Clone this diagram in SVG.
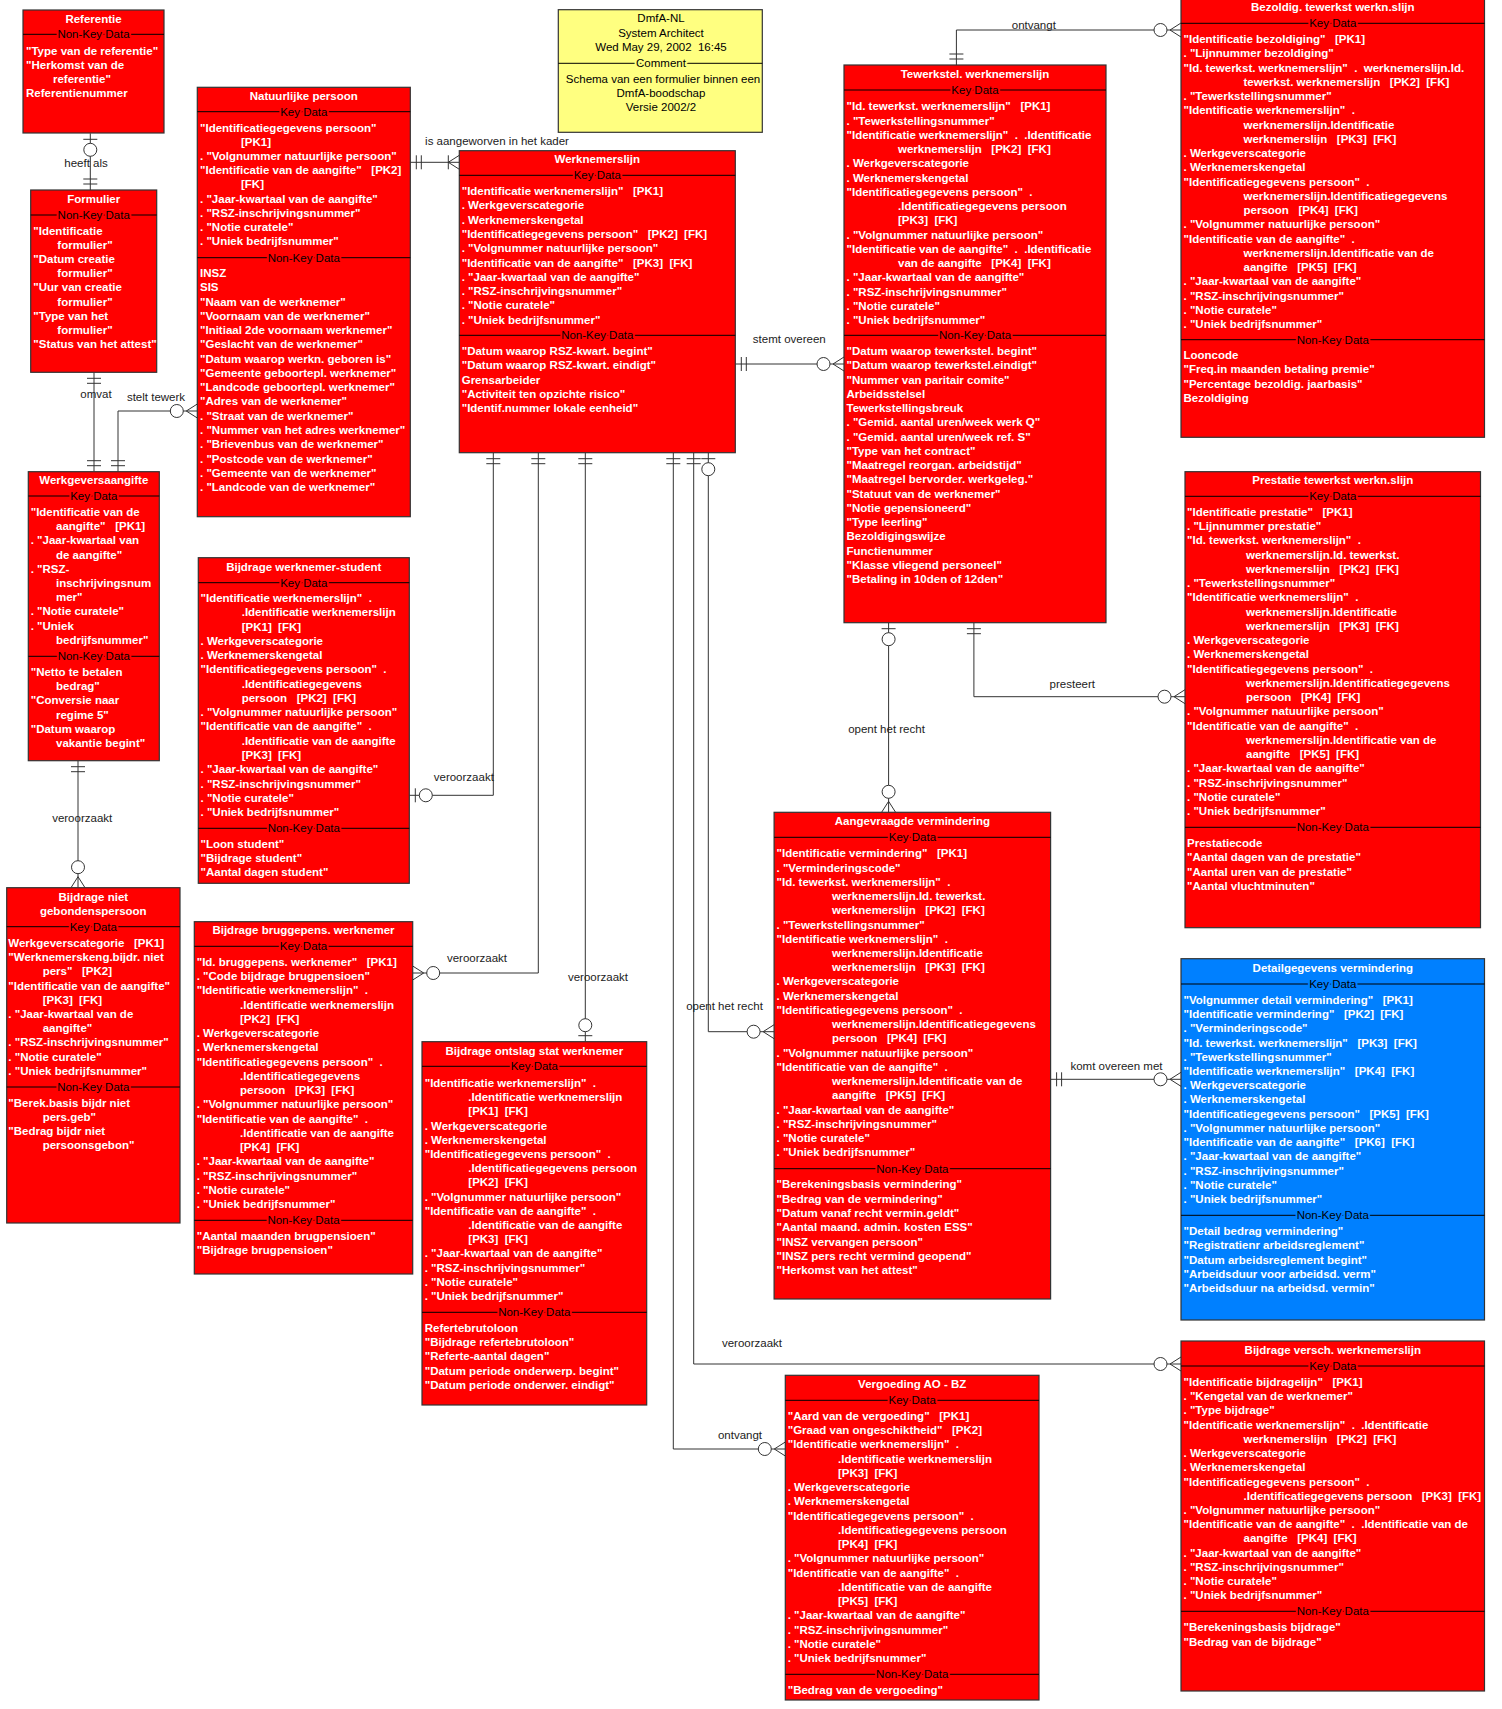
<svg xmlns="http://www.w3.org/2000/svg" xmlns:xlink="http://www.w3.org/1999/xlink" width="1502" height="1709" viewBox="0 0 1502 1709">
<style>
.ent{fill:#FF0000;stroke:#333;stroke-width:1.2}
.blue{fill:#0080FF}
.note{fill:#FFFF80;stroke:#333;stroke-width:1.2}
.sep{stroke:#000;stroke-width:1}
.ttl{font:bold 11.5px "Liberation Sans",Arial,sans-serif;fill:#fff;text-anchor:middle}
.row{font:bold 11.5px "Liberation Sans",Arial,sans-serif;fill:#fff}
.lbl{font:11.5px "Liberation Sans",Arial,sans-serif;fill:#000;text-anchor:middle;paint-order:stroke;stroke:#FF0000;stroke-width:4px;stroke-linejoin:round}
.lblb{stroke:#0080FF}
.lbly{stroke:#FFFF80}
.ntxt{font:11.5px "Liberation Sans",Arial,sans-serif;fill:#000;text-anchor:middle}
.rel{fill:none;stroke:#333;stroke-width:1}
.rl{font:11.5px "Liberation Sans",Arial,sans-serif;fill:#222;text-anchor:middle}
</style>
<defs>
<g id="e1"><path d="M-6,-7V7M-11,-7V7" stroke="#333" fill="none"/></g>
<g id="e01"><path d="M-6,-7V7" stroke="#333" fill="none"/><circle cx="-16.5" cy="0" r="6.5" fill="#fff" stroke="#333"/></g>
<g id="e0n"><path d="M0,-7L-11,0L0,7" stroke="#333" fill="none"/><circle cx="-20.5" cy="0" r="6.5" fill="#fff" stroke="#333"/></g>
<g id="e1n"><path d="M0,-7L-11,0L0,7M-11,-7V7" stroke="#333" fill="none"/></g>
</defs>
<rect width="1502" height="1709" fill="#fff"/>

<g id="connectors">
<g id="r-heeft-als"><path class="rel" d="M90.3,133.3V190"/><use xlink:href="#e01" transform="translate(90.3,133.3) rotate(-90)"/><use xlink:href="#e1" transform="translate(90.3,190) rotate(90)"/><text class="rl" x="86" y="167">heeft als</text></g>
<g id="r-omvat"><path class="rel" d="M94,372.3V471.7"/><use xlink:href="#e1" transform="translate(94,372.3) rotate(-90)"/><use xlink:href="#e1" transform="translate(94,471.7) rotate(90)"/><text class="rl" x="96" y="398">omvat</text></g>
<g id="r-stelt-tewerk"><path class="rel" d="M197.3,411H118V471.7"/><use xlink:href="#e0n" transform="translate(197.3,411)"/><use xlink:href="#e1" transform="translate(118,471.7) rotate(90)"/><text class="rl" x="156" y="401">stelt tewerk</text></g>
<g id="r-aangeworven"><path class="rel" d="M410.3,162.3H459.3"/><use xlink:href="#e1" transform="translate(410.3,162.3) rotate(180)"/><use xlink:href="#e1n" transform="translate(459.3,162.3)"/><text class="rl" x="497" y="145">is aangeworven in het kader</text></g>
<g id="r-stemt-overeen"><path class="rel" d="M735.3,364H844"/><use xlink:href="#e1" transform="translate(735.3,364) rotate(180)"/><use xlink:href="#e0n" transform="translate(844,364)"/><text class="rl" x="789.3" y="343">stemt overeen</text></g>
<g id="r-ontvangt-bez"><path class="rel" d="M956.4,65V30H1181"/><use xlink:href="#e1" transform="translate(956.4,65) rotate(90)"/><use xlink:href="#e0n" transform="translate(1181,30)"/><text class="rl" x="1033.8" y="29">ontvangt</text></g>
<g id="r-presteert"><path class="rel" d="M973.9,622.7V696.7H1185"/><use xlink:href="#e1" transform="translate(973.9,622.7) rotate(-90)"/><use xlink:href="#e0n" transform="translate(1185,696.7)"/><text class="rl" x="1072.3" y="688.3">presteert</text></g>
<g id="r-opent-1"><path class="rel" d="M888.6,622.7V812.3"/><use xlink:href="#e01" transform="translate(888.6,622.7) rotate(-90)"/><use xlink:href="#e0n" transform="translate(888.6,812.3) rotate(90)"/><text class="rl" x="886.5" y="733">opent het recht</text></g>
<g id="r-komt-overeen"><path class="rel" d="M1050.6,1079.3H1181"/><use xlink:href="#e1" transform="translate(1050.6,1079.3) rotate(180)"/><use xlink:href="#e0n" transform="translate(1181,1079.3)"/><text class="rl" x="1116.5" y="1070">komt overeen met</text></g>
<g id="r-veroorzaakt-niet"><path class="rel" d="M78,760.7V887.7"/><use xlink:href="#e1" transform="translate(78,760.7) rotate(-90)"/><use xlink:href="#e0n" transform="translate(78,887.7) rotate(90)"/><text class="rl" x="82.2" y="822.3">veroorzaakt</text></g>
<g id="r-veroorzaakt-student"><path class="rel" d="M493.3,452.7V795.3H409.3"/><use xlink:href="#e1" transform="translate(493.3,452.7) rotate(-90)"/><use xlink:href="#e01" transform="translate(409.3,795.3) rotate(180)"/><text class="rl" x="463.8" y="781.3">veroorzaakt</text></g>
<g id="r-veroorzaakt-brug"><path class="rel" d="M538.3,452.7V973H412.7"/><use xlink:href="#e1" transform="translate(538.3,452.7) rotate(-90)"/><use xlink:href="#e0n" transform="translate(412.7,973) rotate(180)"/><text class="rl" x="477" y="962.3">veroorzaakt</text></g>
<g id="r-veroorzaakt-ontslag"><path class="rel" d="M585.3,452.7V1041.7"/><use xlink:href="#e1" transform="translate(585.3,452.7) rotate(-90)"/><use xlink:href="#e01" transform="translate(585.3,1041.7) rotate(90)"/><text class="rl" x="598" y="981.3">veroorzaakt</text></g>
<g id="r-ontvangt-verg"><path class="rel" d="M673.3,452.7V1449H785.3"/><use xlink:href="#e1" transform="translate(673.3,452.7) rotate(-90)"/><use xlink:href="#e0n" transform="translate(785.3,1449)"/><text class="rl" x="740" y="1439">ontvangt</text></g>
<g id="r-veroorzaakt-versch"><path class="rel" d="M693.7,452.7V1364H1181"/><use xlink:href="#e1" transform="translate(693.7,452.7) rotate(-90)"/><use xlink:href="#e0n" transform="translate(1181,1364)"/><text class="rl" x="752" y="1347.3">veroorzaakt</text></g>
<g id="r-opent-2"><path class="rel" d="M708.3,452.7V1031.7H774.1"/><use xlink:href="#e01" transform="translate(708.3,452.7) rotate(-90)"/><use xlink:href="#e0n" transform="translate(774.1,1031.7)"/><text class="rl" x="724.5" y="1010">opent het recht</text></g>
</g>

<g id="n-referentie">
<rect class="ent" x="23" y="10" width="141" height="123"/>
<text class="ttl" x="93.5" y="23">Referentie</text>
<line class="sep" x1="23" y1="34.3" x2="164" y2="34.3"/><text class="lbl" x="93.5" y="38.3">Non-Key Data</text>
<text class="row" y="55"><tspan x="26">"Type van de referentie"</tspan><tspan x="26" dy="14">"Herkomst van de</tspan><tspan x="53" dy="14">referentie"</tspan><tspan x="26" dy="14">Referentienummer</tspan></text>
</g>

<g id="n-formulier">
<rect class="ent" x="30.7" y="190" width="126" height="182.3"/>
<text class="ttl" x="93.7" y="203">Formulier</text>
<line class="sep" x1="30.7" y1="215" x2="156.7" y2="215"/><text class="lbl" x="93.7" y="219">Non-Key Data</text>
<text class="row" y="235"><tspan x="33.3">"Identificatie</tspan><tspan x="57.3" dy="14.12">formulier"</tspan><tspan x="33.3" dy="14.12">"Datum creatie</tspan><tspan x="57.3" dy="14.12">formulier"</tspan><tspan x="33.3" dy="14.12">"Uur van creatie</tspan><tspan x="57.3" dy="14.12">formulier"</tspan><tspan x="33.3" dy="14.12">"Type van het</tspan><tspan x="57.3" dy="14.12">formulier"</tspan><tspan x="33.3" dy="14.12">"Status van het attest"</tspan></text>
</g>

<g id="n-natuurlijke-persoon">
<rect class="ent" x="197.3" y="87.3" width="213" height="429.4"/>
<text class="ttl" x="303.8" y="100.3">Natuurlijke persoon</text>
<line class="sep" x1="197.3" y1="111.7" x2="410.3" y2="111.7"/><text class="lbl" x="303.8" y="115.7">Key Data</text>
<text class="row" y="132"><tspan x="200">"Identificatiegegevens persoon"</tspan><tspan x="241" dy="14.12">[PK1]</tspan><tspan x="200" dy="14.12">. "Volgnummer natuurlijke persoon"</tspan><tspan x="200" dy="14.12">"Identificatie van de aangifte"&#160;&#160; [PK2]</tspan><tspan x="241" dy="14.12">[FK]</tspan><tspan x="200" dy="14.12">. "Jaar-kwartaal van de aangifte"</tspan><tspan x="200" dy="14.12">. "RSZ-inschrijvingsnummer"</tspan><tspan x="200" dy="14.12">. "Notie curatele"</tspan><tspan x="200" dy="14.12">. "Uniek bedrijfsnummer"</tspan></text>
<line class="sep" x1="197.3" y1="257.7" x2="410.3" y2="257.7"/><text class="lbl" x="303.8" y="261.7">Non-Key Data</text>
<text class="row" y="277"><tspan x="200">INSZ</tspan><tspan x="200" dy="14.27">SIS</tspan><tspan x="200" dy="14.27">"Naam van de werknemer"</tspan><tspan x="200" dy="14.27">"Voornaam van de werknemer"</tspan><tspan x="200" dy="14.27">"Initiaal 2de voornaam werknemer"</tspan><tspan x="200" dy="14.27">"Geslacht van de werknemer"</tspan><tspan x="200" dy="14.27">"Datum waarop werkn. geboren is"</tspan><tspan x="200" dy="14.27">"Gemeente geboortepl. werknemer"</tspan><tspan x="200" dy="14.27">"Landcode geboortepl. werknemer"</tspan><tspan x="200" dy="14.27">"Adres van de werknemer"</tspan><tspan x="200" dy="14.27">. "Straat van de werknemer"</tspan><tspan x="200" dy="14.27">. "Nummer van het adres werknemer"</tspan><tspan x="200" dy="14.27">. "Brievenbus van de werknemer"</tspan><tspan x="200" dy="14.27">. "Postcode van de werknemer"</tspan><tspan x="200" dy="14.27">. "Gemeente van de werknemer"</tspan><tspan x="200" dy="14.27">. "Landcode van de werknemer"</tspan></text>
</g>

<g id="n-dmfa-note">
<rect class="note" x="558.3" y="9.7" width="204" height="122.6"/>
<text class="ntxt" x="661" y="21.7">DmfA-NL</text>
<text class="ntxt" x="661" y="37">System Architect</text>
<text class="ntxt" x="661" y="51">Wed May 29, 2002&#160; 16:45</text>
<line class="sep" x1="558.3" y1="63.3" x2="762.3" y2="63.3"/><text class="lbl lbly" x="661" y="67.3">Comment</text>
<text class="ntxt" x="663" y="83">Schema van een formulier binnen een</text>
<text class="ntxt" x="661" y="97">DmfA-boodschap</text>
<text class="ntxt" x="661" y="111">Versie 2002/2</text>
</g>

<g id="n-werknemerslijn">
<rect class="ent" x="459.3" y="150.7" width="276" height="302"/>
<text class="ttl" x="597.3" y="163">Werknemerslijn</text>
<line class="sep" x1="459.3" y1="175.3" x2="735.3" y2="175.3"/><text class="lbl" x="597.3" y="179.3">Key Data</text>
<text class="row" y="195"><tspan x="461.7">"Identificatie werknemerslijn"&#160;&#160; [PK1]</tspan><tspan x="461.7" dy="14.3">. Werkgeverscategorie</tspan><tspan x="461.7" dy="14.3">. Werknemerskengetal</tspan><tspan x="461.7" dy="14.3">"Identificatiegegevens persoon"&#160;&#160; [PK2]&#160; [FK]</tspan><tspan x="461.7" dy="14.3">. "Volgnummer natuurlijke persoon"</tspan><tspan x="461.7" dy="14.3">"Identificatie van de aangifte"&#160;&#160; [PK3]&#160; [FK]</tspan><tspan x="461.7" dy="14.3">. "Jaar-kwartaal van de aangifte"</tspan><tspan x="461.7" dy="14.3">. "RSZ-inschrijvingsnummer"</tspan><tspan x="461.7" dy="14.3">. "Notie curatele"</tspan><tspan x="461.7" dy="14.3">. "Uniek bedrijfsnummer"</tspan></text>
<line class="sep" x1="459.3" y1="335.3" x2="735.3" y2="335.3"/><text class="lbl" x="597.3" y="339.3">Non-Key Data</text>
<text class="row" y="355"><tspan x="461.7">"Datum waarop RSZ-kwart. begint"</tspan><tspan x="461.7" dy="14.25">"Datum waarop RSZ-kwart. eindigt"</tspan><tspan x="461.7" dy="14.25">Grensarbeider</tspan><tspan x="461.7" dy="14.25">"Activiteit ten opzichte risico"</tspan><tspan x="461.7" dy="14.25">"Identif.nummer lokale eenheid"</tspan></text>
</g>

<g id="n-tewerkstel">
<rect class="ent" x="844" y="65" width="262" height="557.7"/>
<text class="ttl" x="975" y="78">Tewerkstel. werknemerslijn</text>
<line class="sep" x1="844" y1="90" x2="1106" y2="90"/><text class="lbl" x="975" y="94">Key Data</text>
<text class="row" y="110.3"><tspan x="846.5">"Id. tewerkst. werknemerslijn"&#160;&#160; [PK1]</tspan><tspan x="846.5" dy="14.25">. "Tewerkstellingsnummer"</tspan><tspan x="846.5" dy="14.25">"Identificatie werknemerslijn"&#160; .&#160; .Identificatie</tspan><tspan x="898" dy="14.25">werknemerslijn&#160;&#160; [PK2]&#160; [FK]</tspan><tspan x="846.5" dy="14.25">. Werkgeverscategorie</tspan><tspan x="846.5" dy="14.25">. Werknemerskengetal</tspan><tspan x="846.5" dy="14.25">"Identificatiegegevens persoon"&#160; .</tspan><tspan x="898" dy="14.25">.Identificatiegegevens persoon</tspan><tspan x="898" dy="14.25">[PK3]&#160; [FK]</tspan><tspan x="846.5" dy="14.25">. "Volgnummer natuurlijke persoon"</tspan><tspan x="846.5" dy="14.25">"Identificatie van de aangifte"&#160; .&#160; .Identificatie</tspan><tspan x="898" dy="14.25">van de aangifte&#160;&#160; [PK4]&#160; [FK]</tspan><tspan x="846.5" dy="14.25">. "Jaar-kwartaal van de aangifte"</tspan><tspan x="846.5" dy="14.25">. "RSZ-inschrijvingsnummer"</tspan><tspan x="846.5" dy="14.25">. "Notie curatele"</tspan><tspan x="846.5" dy="14.25">. "Uniek bedrijfsnummer"</tspan></text>
<line class="sep" x1="844" y1="335.3" x2="1106" y2="335.3"/><text class="lbl" x="975" y="339.3">Non-Key Data</text>
<text class="row" y="355"><tspan x="846.5">"Datum waarop tewerkstel. begint"</tspan><tspan x="846.5" dy="14.25">"Datum waarop tewerkstel.eindigt"</tspan><tspan x="846.5" dy="14.25">"Nummer van paritair comite"</tspan><tspan x="846.5" dy="14.25">Arbeidsstelsel</tspan><tspan x="846.5" dy="14.25">Tewerkstellingsbreuk</tspan><tspan x="846.5" dy="14.25">. "Gemid. aantal uren/week werk Q"</tspan><tspan x="846.5" dy="14.25">. "Gemid. aantal uren/week ref. S"</tspan><tspan x="846.5" dy="14.25">"Type van het contract"</tspan><tspan x="846.5" dy="14.25">"Maatregel reorgan. arbeidstijd"</tspan><tspan x="846.5" dy="14.25">"Maatregel bervorder. werkgeleg."</tspan><tspan x="846.5" dy="14.25">"Statuut van de werknemer"</tspan><tspan x="846.5" dy="14.25">"Notie gepensioneerd"</tspan><tspan x="846.5" dy="14.25">"Type leerling"</tspan><tspan x="846.5" dy="14.25">Bezoldigingswijze</tspan><tspan x="846.5" dy="14.25">Functienummer</tspan><tspan x="846.5" dy="14.25">"Klasse vliegend personeel"</tspan><tspan x="846.5" dy="14.25">"Betaling in 10den of 12den"</tspan></text>
</g>

<g id="n-bezoldiging">
<rect class="ent" x="1181" y="-1" width="303.5" height="438.3"/>
<text class="ttl" x="1332.8" y="11.3">Bezoldig. tewerkst werkn.slijn</text>
<line class="sep" x1="1181" y1="23.3" x2="1484.5" y2="23.3"/><text class="lbl" x="1332.8" y="27.3">Key Data</text>
<text class="row" y="43"><tspan x="1183.5">"Identificatie bezoldiging"&#160;&#160; [PK1]</tspan><tspan x="1183.5" dy="14.25">. "Lijnnummer bezoldiging"</tspan><tspan x="1183.5" dy="14.25">"Id. tewerkst. werknemerslijn"&#160; .&#160; werknemerslijn.Id.</tspan><tspan x="1243.5" dy="14.25">tewerkst. werknemerslijn&#160;&#160; [PK2]&#160; [FK]</tspan><tspan x="1183.5" dy="14.25">. "Tewerkstellingsnummer"</tspan><tspan x="1183.5" dy="14.25">"Identificatie werknemerslijn"&#160; .</tspan><tspan x="1243.5" dy="14.25">werknemerslijn.Identificatie</tspan><tspan x="1243.5" dy="14.25">werknemerslijn&#160;&#160; [PK3]&#160; [FK]</tspan><tspan x="1183.5" dy="14.25">. Werkgeverscategorie</tspan><tspan x="1183.5" dy="14.25">. Werknemerskengetal</tspan><tspan x="1183.5" dy="14.25">"Identificatiegegevens persoon"&#160; .</tspan><tspan x="1243.5" dy="14.25">werknemerslijn.Identificatiegegevens</tspan><tspan x="1243.5" dy="14.25">persoon&#160;&#160; [PK4]&#160; [FK]</tspan><tspan x="1183.5" dy="14.25">. "Volgnummer natuurlijke persoon"</tspan><tspan x="1183.5" dy="14.25">"Identificatie van de aangifte"&#160; .</tspan><tspan x="1243.5" dy="14.25">werknemerslijn.Identificatie van de</tspan><tspan x="1243.5" dy="14.25">aangifte&#160;&#160; [PK5]&#160; [FK]</tspan><tspan x="1183.5" dy="14.25">. "Jaar-kwartaal van de aangifte"</tspan><tspan x="1183.5" dy="14.25">. "RSZ-inschrijvingsnummer"</tspan><tspan x="1183.5" dy="14.25">. "Notie curatele"</tspan><tspan x="1183.5" dy="14.25">. "Uniek bedrijfsnummer"</tspan></text>
<line class="sep" x1="1181" y1="339.7" x2="1484.5" y2="339.7"/><text class="lbl" x="1332.8" y="343.7">Non-Key Data</text>
<text class="row" y="359"><tspan x="1183.5">Looncode</tspan><tspan x="1183.5" dy="14.3">"Freq.in maanden betaling premie"</tspan><tspan x="1183.5" dy="14.3">"Percentage bezoldig. jaarbasis"</tspan><tspan x="1183.5" dy="14.3">Bezoldiging</tspan></text>
</g>

<g id="n-prestatie">
<rect class="ent" x="1185" y="471.7" width="295.5" height="456"/>
<text class="ttl" x="1332.8" y="484">Prestatie tewerkst werkn.slijn</text>
<line class="sep" x1="1185" y1="496.3" x2="1480.5" y2="496.3"/><text class="lbl" x="1332.8" y="500.3">Key Data</text>
<text class="row" y="516"><tspan x="1187">"Identificatie prestatie"&#160;&#160; [PK1]</tspan><tspan x="1187" dy="14.24">. "Lijnnummer prestatie"</tspan><tspan x="1187" dy="14.24">"Id. tewerkst. werknemerslijn"&#160; .</tspan><tspan x="1246" dy="14.24">werknemerslijn.Id. tewerkst.</tspan><tspan x="1246" dy="14.24">werknemerslijn&#160;&#160; [PK2]&#160; [FK]</tspan><tspan x="1187" dy="14.24">. "Tewerkstellingsnummer"</tspan><tspan x="1187" dy="14.24">"Identificatie werknemerslijn"&#160; .</tspan><tspan x="1246" dy="14.24">werknemerslijn.Identificatie</tspan><tspan x="1246" dy="14.24">werknemerslijn&#160;&#160; [PK3]&#160; [FK]</tspan><tspan x="1187" dy="14.24">. Werkgeverscategorie</tspan><tspan x="1187" dy="14.24">. Werknemerskengetal</tspan><tspan x="1187" dy="14.24">"Identificatiegegevens persoon"&#160; .</tspan><tspan x="1246" dy="14.24">werknemerslijn.Identificatiegegevens</tspan><tspan x="1246" dy="14.24">persoon&#160;&#160; [PK4]&#160; [FK]</tspan><tspan x="1187" dy="14.24">. "Volgnummer natuurlijke persoon"</tspan><tspan x="1187" dy="14.24">"Identificatie van de aangifte"&#160; .</tspan><tspan x="1246" dy="14.24">werknemerslijn.Identificatie van de</tspan><tspan x="1246" dy="14.24">aangifte&#160;&#160; [PK5]&#160; [FK]</tspan><tspan x="1187" dy="14.24">. "Jaar-kwartaal van de aangifte"</tspan><tspan x="1187" dy="14.24">. "RSZ-inschrijvingsnummer"</tspan><tspan x="1187" dy="14.24">. "Notie curatele"</tspan><tspan x="1187" dy="14.24">. "Uniek bedrijfsnummer"</tspan></text>
<line class="sep" x1="1185" y1="827.3" x2="1480.5" y2="827.3"/><text class="lbl" x="1332.8" y="831.3">Non-Key Data</text>
<text class="row" y="847"><tspan x="1187">Prestatiecode</tspan><tspan x="1187" dy="14.3">"Aantal dagen van de prestatie"</tspan><tspan x="1187" dy="14.3">"Aantal uren van de prestatie"</tspan><tspan x="1187" dy="14.3">"Aantal vluchtminuten"</tspan></text>
</g>

<g id="n-aangevraagde-vermindering">
<rect class="ent" x="774.1" y="812.3" width="276.5" height="486.7"/>
<text class="ttl" x="912.4" y="825.3">Aangevraagde vermindering</text>
<line class="sep" x1="774.1" y1="837.3" x2="1050.6" y2="837.3"/><text class="lbl" x="912.4" y="841.3">Key Data</text>
<text class="row" y="857.3"><tspan x="776.5">"Identificatie vermindering"&#160;&#160; [PK1]</tspan><tspan x="776.5" dy="14.24">. "Verminderingscode"</tspan><tspan x="776.5" dy="14.24">"Id. tewerkst. werknemerslijn"&#160; .</tspan><tspan x="832" dy="14.24">werknemerslijn.Id. tewerkst.</tspan><tspan x="832" dy="14.24">werknemerslijn&#160;&#160; [PK2]&#160; [FK]</tspan><tspan x="776.5" dy="14.24">. "Tewerkstellingsnummer"</tspan><tspan x="776.5" dy="14.24">"Identificatie werknemerslijn"&#160; .</tspan><tspan x="832" dy="14.24">werknemerslijn.Identificatie</tspan><tspan x="832" dy="14.24">werknemerslijn&#160;&#160; [PK3]&#160; [FK]</tspan><tspan x="776.5" dy="14.24">. Werkgeverscategorie</tspan><tspan x="776.5" dy="14.24">. Werknemerskengetal</tspan><tspan x="776.5" dy="14.24">"Identificatiegegevens persoon"&#160; .</tspan><tspan x="832" dy="14.24">werknemerslijn.Identificatiegegevens</tspan><tspan x="832" dy="14.24">persoon&#160;&#160; [PK4]&#160; [FK]</tspan><tspan x="776.5" dy="14.24">. "Volgnummer natuurlijke persoon"</tspan><tspan x="776.5" dy="14.24">"Identificatie van de aangifte"&#160; .</tspan><tspan x="832" dy="14.24">werknemerslijn.Identificatie van de</tspan><tspan x="832" dy="14.24">aangifte&#160;&#160; [PK5]&#160; [FK]</tspan><tspan x="776.5" dy="14.24">. "Jaar-kwartaal van de aangifte"</tspan><tspan x="776.5" dy="14.24">. "RSZ-inschrijvingsnummer"</tspan><tspan x="776.5" dy="14.24">. "Notie curatele"</tspan><tspan x="776.5" dy="14.24">. "Uniek bedrijfsnummer"</tspan></text>
<line class="sep" x1="774.1" y1="1168.7" x2="1050.6" y2="1168.7"/><text class="lbl" x="912.4" y="1172.7">Non-Key Data</text>
<text class="row" y="1188.3"><tspan x="776.5">"Berekeningsbasis vermindering"</tspan><tspan x="776.5" dy="14.33">"Bedrag van de vermindering"</tspan><tspan x="776.5" dy="14.33">"Datum vanaf recht vermin.geldt"</tspan><tspan x="776.5" dy="14.33">"Aantal maand. admin. kosten ESS"</tspan><tspan x="776.5" dy="14.33">"INSZ vervangen persoon"</tspan><tspan x="776.5" dy="14.33">"INSZ pers recht vermind geopend"</tspan><tspan x="776.5" dy="14.33">"Herkomst van het attest"</tspan></text>
</g>

<g id="n-detailgegevens-vermindering">
<rect class="ent blue" x="1181" y="958.7" width="303.5" height="361.3"/>
<text class="ttl" x="1332.8" y="972.3">Detailgegevens vermindering</text>
<line class="sep" x1="1181" y1="984" x2="1484.5" y2="984"/><text class="lbl lblb" x="1332.8" y="988">Key Data</text>
<text class="row" y="1004"><tspan x="1183.5">"Volgnummer detail vermindering"&#160;&#160; [PK1]</tspan><tspan x="1183.5" dy="14.21">"Identificatie vermindering"&#160;&#160; [PK2]&#160; [FK]</tspan><tspan x="1183.5" dy="14.21">. "Verminderingscode"</tspan><tspan x="1183.5" dy="14.21">"Id. tewerkst. werknemerslijn"&#160;&#160; [PK3]&#160; [FK]</tspan><tspan x="1183.5" dy="14.21">. "Tewerkstellingsnummer"</tspan><tspan x="1183.5" dy="14.21">"Identificatie werknemerslijn"&#160;&#160; [PK4]&#160; [FK]</tspan><tspan x="1183.5" dy="14.21">. Werkgeverscategorie</tspan><tspan x="1183.5" dy="14.21">. Werknemerskengetal</tspan><tspan x="1183.5" dy="14.21">"Identificatiegegevens persoon"&#160;&#160; [PK5]&#160; [FK]</tspan><tspan x="1183.5" dy="14.21">. "Volgnummer natuurlijke persoon"</tspan><tspan x="1183.5" dy="14.21">"Identificatie van de aangifte"&#160;&#160; [PK6]&#160; [FK]</tspan><tspan x="1183.5" dy="14.21">. "Jaar-kwartaal van de aangifte"</tspan><tspan x="1183.5" dy="14.21">. "RSZ-inschrijvingsnummer"</tspan><tspan x="1183.5" dy="14.21">. "Notie curatele"</tspan><tspan x="1183.5" dy="14.21">. "Uniek bedrijfsnummer"</tspan></text>
<line class="sep" x1="1181" y1="1215.3" x2="1484.5" y2="1215.3"/><text class="lbl lblb" x="1332.8" y="1219.3">Non-Key Data</text>
<text class="row" y="1235"><tspan x="1183.5">"Detail bedrag vermindering"</tspan><tspan x="1183.5" dy="14.25">"Registratienr arbeidsreglement"</tspan><tspan x="1183.5" dy="14.25">"Datum arbeidsreglement begint"</tspan><tspan x="1183.5" dy="14.25">"Arbeidsduur voor arbeidsd. verm"</tspan><tspan x="1183.5" dy="14.25">"Arbeidsduur na arbeidsd. vermin"</tspan></text>
</g>

<g id="n-bijdrage-versch">
<rect class="ent" x="1181" y="1341" width="303.5" height="350"/>
<text class="ttl" x="1332.8" y="1354.3">Bijdrage versch. werknemerslijn</text>
<line class="sep" x1="1181" y1="1366" x2="1484.5" y2="1366"/><text class="lbl" x="1332.8" y="1370">Key Data</text>
<text class="row" y="1386"><tspan x="1183.5">"Identificatie bijdragelijn"&#160;&#160; [PK1]</tspan><tspan x="1183.5" dy="14.22">. "Kengetal van de werknemer"</tspan><tspan x="1183.5" dy="14.22">. "Type bijdrage"</tspan><tspan x="1183.5" dy="14.22">"Identificatie werknemerslijn"&#160; .&#160; .Identificatie</tspan><tspan x="1243.5" dy="14.22">werknemerslijn&#160;&#160; [PK2]&#160; [FK]</tspan><tspan x="1183.5" dy="14.22">. Werkgeverscategorie</tspan><tspan x="1183.5" dy="14.22">. Werknemerskengetal</tspan><tspan x="1183.5" dy="14.22">"Identificatiegegevens persoon"&#160; .</tspan><tspan x="1243.5" dy="14.22">.Identificatiegegevens persoon&#160;&#160; [PK3]&#160; [FK]</tspan><tspan x="1183.5" dy="14.22">. "Volgnummer natuurlijke persoon"</tspan><tspan x="1183.5" dy="14.22">"Identificatie van de aangifte"&#160; .&#160; .Identificatie van de</tspan><tspan x="1243.5" dy="14.22">aangifte&#160;&#160; [PK4]&#160; [FK]</tspan><tspan x="1183.5" dy="14.22">. "Jaar-kwartaal van de aangifte"</tspan><tspan x="1183.5" dy="14.22">. "RSZ-inschrijvingsnummer"</tspan><tspan x="1183.5" dy="14.22">. "Notie curatele"</tspan><tspan x="1183.5" dy="14.22">. "Uniek bedrijfsnummer"</tspan></text>
<line class="sep" x1="1181" y1="1611.3" x2="1484.5" y2="1611.3"/><text class="lbl" x="1332.8" y="1615.3">Non-Key Data</text>
<text class="row" y="1631"><tspan x="1183.5">"Berekeningsbasis bijdrage"</tspan><tspan x="1183.5" dy="14.5">"Bedrag van de bijdrage"</tspan></text>
</g>

<g id="n-bijdrage-student">
<rect class="ent" x="198.3" y="557.7" width="211" height="325.6"/>
<text class="ttl" x="303.8" y="571">Bijdrage werknemer-student</text>
<line class="sep" x1="198.3" y1="582.7" x2="409.3" y2="582.7"/><text class="lbl" x="303.8" y="586.7">Key Data</text>
<text class="row" y="602"><tspan x="200.5">"Identificatie werknemerslijn"&#160; .</tspan><tspan x="241.7" dy="14.27">.Identificatie werknemerslijn</tspan><tspan x="241.7" dy="14.27">[PK1]&#160; [FK]</tspan><tspan x="200.5" dy="14.27">. Werkgeverscategorie</tspan><tspan x="200.5" dy="14.27">. Werknemerskengetal</tspan><tspan x="200.5" dy="14.27">"Identificatiegegevens persoon"&#160; .</tspan><tspan x="241.7" dy="14.27">.Identificatiegegevens</tspan><tspan x="241.7" dy="14.27">persoon&#160;&#160; [PK2]&#160; [FK]</tspan><tspan x="200.5" dy="14.27">. "Volgnummer natuurlijke persoon"</tspan><tspan x="200.5" dy="14.27">"Identificatie van de aangifte"&#160; .</tspan><tspan x="241.7" dy="14.27">.Identificatie van de aangifte</tspan><tspan x="241.7" dy="14.27">[PK3]&#160; [FK]</tspan><tspan x="200.5" dy="14.27">. "Jaar-kwartaal van de aangifte"</tspan><tspan x="200.5" dy="14.27">. "RSZ-inschrijvingsnummer"</tspan><tspan x="200.5" dy="14.27">. "Notie curatele"</tspan><tspan x="200.5" dy="14.27">. "Uniek bedrijfsnummer"</tspan></text>
<line class="sep" x1="198.3" y1="828.3" x2="409.3" y2="828.3"/><text class="lbl" x="303.8" y="832.3">Non-Key Data</text>
<text class="row" y="848"><tspan x="200.5">"Loon student"</tspan><tspan x="200.5" dy="14">"Bijdrage student"</tspan><tspan x="200.5" dy="14">"Aantal dagen student"</tspan></text>
</g>

<g id="n-werkgeversaangifte">
<rect class="ent" x="28.3" y="471.7" width="131" height="289"/>
<text class="ttl" x="93.8" y="484">Werkgeversaangifte</text>
<line class="sep" x1="28.3" y1="496" x2="159.3" y2="496"/><text class="lbl" x="93.8" y="500">Key Data</text>
<text class="row" y="516"><tspan x="30.7">"Identificatie van de</tspan><tspan x="56" dy="14.2">aangifte"&#160;&#160; [PK1]</tspan><tspan x="30.7" dy="14.2">. "Jaar-kwartaal van</tspan><tspan x="56" dy="14.2">de aangifte"</tspan><tspan x="30.7" dy="14.2">. "RSZ-</tspan><tspan x="56" dy="14.2">inschrijvingsnum</tspan><tspan x="56" dy="14.2">mer"</tspan><tspan x="30.7" dy="14.2">. "Notie curatele"</tspan><tspan x="30.7" dy="14.2">. "Uniek</tspan><tspan x="56" dy="14.2">bedrijfsnummer"</tspan></text>
<line class="sep" x1="28.3" y1="656.3" x2="159.3" y2="656.3"/><text class="lbl" x="93.8" y="660.3">Non-Key Data</text>
<text class="row" y="676"><tspan x="30.7">"Netto te betalen</tspan><tspan x="56" dy="14.2">bedrag"</tspan><tspan x="30.7" dy="14.2">"Conversie naar</tspan><tspan x="56" dy="14.2">regime 5"</tspan><tspan x="30.7" dy="14.2">"Datum waarop</tspan><tspan x="56" dy="14.2">vakantie begint"</tspan></text>
</g>

<g id="n-bijdrage-niet-gebonden">
<rect class="ent" x="6.7" y="887.7" width="173.3" height="335.3"/>
<text class="ttl" x="93.3" y="901">Bijdrage niet</text>
<text class="ttl" x="93.3" y="915.3">gebondenspersoon</text>
<line class="sep" x1="6.7" y1="926.7" x2="180" y2="926.7"/><text class="lbl" x="93.3" y="930.7">Key Data</text>
<text class="row" y="947"><tspan x="8.3">Werkgeverscategorie&#160;&#160; [PK1]</tspan><tspan x="8.3" dy="14.2">"Werknemerskeng.bijdr. niet</tspan><tspan x="42.7" dy="14.2">pers"&#160;&#160; [PK2]</tspan><tspan x="8.3" dy="14.2">"Identificatie van de aangifte"</tspan><tspan x="42.7" dy="14.2">[PK3]&#160; [FK]</tspan><tspan x="8.3" dy="14.2">. "Jaar-kwartaal van de</tspan><tspan x="42.7" dy="14.2">aangifte"</tspan><tspan x="8.3" dy="14.2">. "RSZ-inschrijvingsnummer"</tspan><tspan x="8.3" dy="14.2">. "Notie curatele"</tspan><tspan x="8.3" dy="14.2">. "Uniek bedrijfsnummer"</tspan></text>
<line class="sep" x1="6.7" y1="1087" x2="180" y2="1087"/><text class="lbl" x="93.3" y="1091">Non-Key Data</text>
<text class="row" y="1107"><tspan x="8.3">"Berek.basis bijdr niet</tspan><tspan x="42.7" dy="14">pers.geb"</tspan><tspan x="8.3" dy="14">"Bedrag bijdr niet</tspan><tspan x="42.7" dy="14">persoonsgebon"</tspan></text>
</g>

<g id="n-bijdrage-bruggepens">
<rect class="ent" x="194.3" y="921.7" width="218.4" height="352.3"/>
<text class="ttl" x="303.5" y="934">Bijdrage bruggepens. werknemer</text>
<line class="sep" x1="194.3" y1="946.3" x2="412.7" y2="946.3"/><text class="lbl" x="303.5" y="950.3">Key Data</text>
<text class="row" y="966"><tspan x="196.7">"Id. bruggepens. werknemer"&#160;&#160; [PK1]</tspan><tspan x="196.7" dy="14.24">. "Code bijdrage brugpensioen"</tspan><tspan x="196.7" dy="14.24">"Identificatie werknemerslijn"&#160; .</tspan><tspan x="240" dy="14.24">.Identificatie werknemerslijn</tspan><tspan x="240" dy="14.24">[PK2]&#160; [FK]</tspan><tspan x="196.7" dy="14.24">. Werkgeverscategorie</tspan><tspan x="196.7" dy="14.24">. Werknemerskengetal</tspan><tspan x="196.7" dy="14.24">"Identificatiegegevens persoon"&#160; .</tspan><tspan x="240" dy="14.24">.Identificatiegegevens</tspan><tspan x="240" dy="14.24">persoon&#160;&#160; [PK3]&#160; [FK]</tspan><tspan x="196.7" dy="14.24">. "Volgnummer natuurlijke persoon"</tspan><tspan x="196.7" dy="14.24">"Identificatie van de aangifte"&#160; .</tspan><tspan x="240" dy="14.24">.Identificatie van de aangifte</tspan><tspan x="240" dy="14.24">[PK4]&#160; [FK]</tspan><tspan x="196.7" dy="14.24">. "Jaar-kwartaal van de aangifte"</tspan><tspan x="196.7" dy="14.24">. "RSZ-inschrijvingsnummer"</tspan><tspan x="196.7" dy="14.24">. "Notie curatele"</tspan><tspan x="196.7" dy="14.24">. "Uniek bedrijfsnummer"</tspan></text>
<line class="sep" x1="194.3" y1="1220.3" x2="412.7" y2="1220.3"/><text class="lbl" x="303.5" y="1224.3">Non-Key Data</text>
<text class="row" y="1240"><tspan x="196.7">"Aantal maanden brugpensioen"</tspan><tspan x="196.7" dy="14">"Bijdrage brugpensioen"</tspan></text>
</g>

<g id="n-bijdrage-ontslag">
<rect class="ent" x="422" y="1041.7" width="224.7" height="363.3"/>
<text class="ttl" x="534.3" y="1055">Bijdrage ontslag stat werknemer</text>
<line class="sep" x1="422" y1="1066.3" x2="646.7" y2="1066.3"/><text class="lbl" x="534.3" y="1070.3">Key Data</text>
<text class="row" y="1087"><tspan x="424.7">"Identificatie werknemerslijn"&#160; .</tspan><tspan x="468.3" dy="14.2">.Identificatie werknemerslijn</tspan><tspan x="468.3" dy="14.2">[PK1]&#160; [FK]</tspan><tspan x="424.7" dy="14.2">. Werkgeverscategorie</tspan><tspan x="424.7" dy="14.2">. Werknemerskengetal</tspan><tspan x="424.7" dy="14.2">"Identificatiegegevens persoon"&#160; .</tspan><tspan x="468.3" dy="14.2">.Identificatiegegevens persoon</tspan><tspan x="468.3" dy="14.2">[PK2]&#160; [FK]</tspan><tspan x="424.7" dy="14.2">. "Volgnummer natuurlijke persoon"</tspan><tspan x="424.7" dy="14.2">"Identificatie van de aangifte"&#160; .</tspan><tspan x="468.3" dy="14.2">.Identificatie van de aangifte</tspan><tspan x="468.3" dy="14.2">[PK3]&#160; [FK]</tspan><tspan x="424.7" dy="14.2">. "Jaar-kwartaal van de aangifte"</tspan><tspan x="424.7" dy="14.2">. "RSZ-inschrijvingsnummer"</tspan><tspan x="424.7" dy="14.2">. "Notie curatele"</tspan><tspan x="424.7" dy="14.2">. "Uniek bedrijfsnummer"</tspan></text>
<line class="sep" x1="422" y1="1312.3" x2="646.7" y2="1312.3"/><text class="lbl" x="534.3" y="1316.3">Non-Key Data</text>
<text class="row" y="1331.7"><tspan x="424.7">Refertebrutoloon</tspan><tspan x="424.7" dy="14.33">"Bijdrage refertebrutoloon"</tspan><tspan x="424.7" dy="14.33">"Referte-aantal dagen"</tspan><tspan x="424.7" dy="14.33">"Datum periode onderwerp. begint"</tspan><tspan x="424.7" dy="14.33">"Datum periode onderwer. eindigt"</tspan></text>
</g>

<g id="n-vergoeding">
<rect class="ent" x="785.3" y="1375.3" width="253.7" height="324.7"/>
<text class="ttl" x="912.2" y="1388">Vergoeding AO - BZ</text>
<line class="sep" x1="785.3" y1="1400.3" x2="1039" y2="1400.3"/><text class="lbl" x="912.2" y="1404.3">Key Data</text>
<text class="row" y="1420"><tspan x="787.7">"Aard van de vergoeding"&#160;&#160; [PK1]</tspan><tspan x="787.7" dy="14.24">"Graad van ongeschiktheid"&#160;&#160; [PK2]</tspan><tspan x="787.7" dy="14.24">"Identificatie werknemerslijn"&#160; .</tspan><tspan x="838" dy="14.24">.Identificatie werknemerslijn</tspan><tspan x="838" dy="14.24">[PK3]&#160; [FK]</tspan><tspan x="787.7" dy="14.24">. Werkgeverscategorie</tspan><tspan x="787.7" dy="14.24">. Werknemerskengetal</tspan><tspan x="787.7" dy="14.24">"Identificatiegegevens persoon"&#160; .</tspan><tspan x="838" dy="14.24">.Identificatiegegevens persoon</tspan><tspan x="838" dy="14.24">[PK4]&#160; [FK]</tspan><tspan x="787.7" dy="14.24">. "Volgnummer natuurlijke persoon"</tspan><tspan x="787.7" dy="14.24">"Identificatie van de aangifte"&#160; .</tspan><tspan x="838" dy="14.24">.Identificatie van de aangifte</tspan><tspan x="838" dy="14.24">[PK5]&#160; [FK]</tspan><tspan x="787.7" dy="14.24">. "Jaar-kwartaal van de aangifte"</tspan><tspan x="787.7" dy="14.24">. "RSZ-inschrijvingsnummer"</tspan><tspan x="787.7" dy="14.24">. "Notie curatele"</tspan><tspan x="787.7" dy="14.24">. "Uniek bedrijfsnummer"</tspan></text>
<line class="sep" x1="785.3" y1="1674.3" x2="1039" y2="1674.3"/><text class="lbl" x="912.2" y="1678.3">Non-Key Data</text>
<text class="row" y="1694"><tspan x="787.7">"Bedrag van de vergoeding"</tspan></text>
</g>
</svg>
